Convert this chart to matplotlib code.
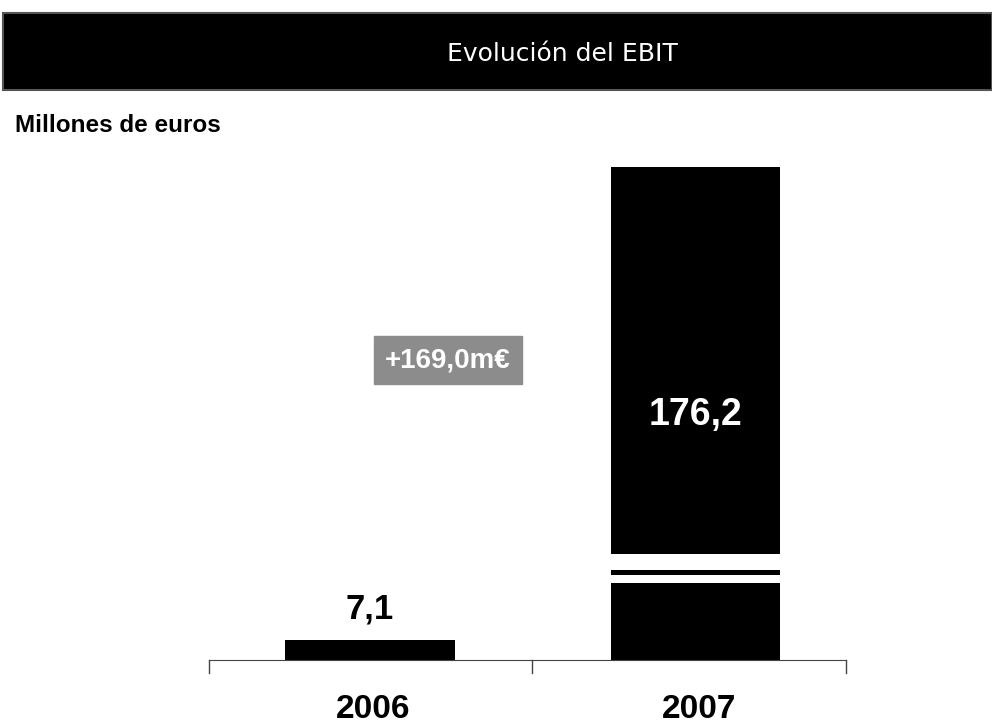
import matplotlib.pyplot as plt
from matplotlib.patches import Rectangle

# data
years = ['2006', '2007']
ebit = [7.1, 176.2]
value_labels = ['7,1', '176,2']
delta_label = '+169,0m€'

fig = plt.figure(figsize=(9.92, 7.27), dpi=100)
fonts = ['Liberation Sans', 'DejaVu Sans']

# title bar
fig.patches.append(Rectangle((0.003, 1 - 90 / 727), 0.997, 77 / 727, transform=fig.transFigure,
                             facecolor='black', edgecolor='#555555', linewidth=1.5))
fig.text(562 / 992, 1 - 54 / 727, 'Evolución del EBIT', color='white', fontsize=18,
         family='DejaVu Sans', ha='center', va='center')
fig.text(15 / 992, 1 - 126 / 727, 'Millones de euros', fontsize=17.5, fontweight='bold',
         family=fonts, ha='left', va='center')

ax = fig.add_axes([209 / 992, 1 - 660 / 727, 637 / 992, 493 / 727])
x = [0, 1]
bars = ax.bar(x, ebit, width=0.52, color='black')
ax.set_xlim(-0.495, 1.462)
ax.set_ylim(0, max(ebit))

for s in ['top', 'right', 'left']:
    ax.spines[s].set_visible(False)
ax.spines['bottom'].set_color('#444444')
ax.set_yticks([])
ax.set_xticks([])

# category separators below the axis line
for xt in [-0.495, 0.498, 1.462]:
    ax.plot([xt, xt], [0, -4.5], color='#444444', lw=1, clip_on=False)

# year labels
for xi, yr in zip(x, years):
    ax.text(xi + 0.01, -17.8, yr, ha='center', va='center', fontsize=24, fontweight='bold',
            family=fonts)

# value labels
ax.text(x[0], ebit[0] + 11, value_labels[0], ha='center', va='center', fontsize=25,
        fontweight='bold', family=fonts)
ax.text(x[1], ebit[1] * 0.497, value_labels[1], ha='center', va='center', fontsize=27,
        fontweight='bold', color='white', family=fonts)

# axis break on the tall bar
top = ebit[1]
for lo, hi in [(top * 0.156, top * 0.173), (top * 0.183, top * 0.214)]:
    ax.add_patch(Rectangle((x[1] - 0.3, lo), 0.6, hi - lo, facecolor='white', edgecolor='none'))

# variation box
ax.text(0.24, top * 0.608, delta_label, ha='center', va='center', fontsize=20,
        fontweight='bold', color='white', family=fonts,
        bbox=dict(boxstyle='square,pad=0.4', facecolor='#8c8c8c', edgecolor='#8c8c8c'))

fig.savefig('out.png', dpi=100)
